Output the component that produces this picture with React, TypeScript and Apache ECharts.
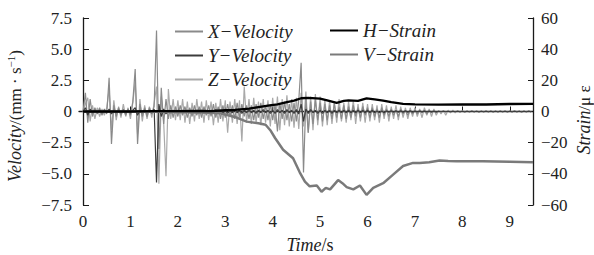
import React, { useEffect, useRef } from "react";
import * as echarts from "echarts";

const FONT = "Liberation Serif";

// sampling step (s) of the velocity records
const VEL_STEP = 0.05;

const xVelocity = [
  0, 1.5, -0.9, 1.0, -0.4, 0.3, -0.2, 0.3, -0.3, 0.2,
  -0.2, 2.7, -2.6, 0.5, -0.4, 0.3, -0.3, 0.2, -0.3, 0.2,
  -0.3, 0.8, 3.4, -2.6, 0.6, -0.4, 0.3, -0.4, 0.3, -0.2,
  0.4, 6.5, -3.0, 1.9, -1.0, 1.0, -0.6, 0.5, -0.5, 0.4,
  -0.4, 0.5, -0.3, 0.4, -0.5, 0.3, -0.4, 0.5, -0.3, 0.4,
  -0.5, 0.4, -0.3, 0.5, -0.4, 0.6, -0.5, 0.4, -0.6, 0.5,
  -0.5, 0.6, -0.4, 0.5, -0.6, 0.7, -0.5, 0.6, -0.4, 0.5,
  -0.6, 0.5, -0.7, 0.6, -0.5, 0.7, -0.6, 0.5, -0.7, 0.6,
  -0.7, 0.6, -1.6, 0.7, -0.6, 0.8, -0.7, 0.6, -0.8, 0.7,
  -0.8, 0.9, 3.9, -4.9, 1.0, -1.7, 0.8, -1.0, 0.9, -0.7,
  0.7, -0.8, 0.6, -0.7, 0.5, -0.6, 0.6, -0.5, 0.4, -0.6,
  0.5, -0.6, 0.4, -0.5, 0.5, -0.4, 0.3, -0.5, 0.4, -0.3,
  0.3, -0.5, 0.3, -0.4, 0.2, -0.5, 0.3, -0.3, 0.2, -0.4,
  0.2, -0.3, 0.1, -0.4, 0.2, -0.2, 0.1, -0.3, 0.1, -0.2,
  0.1, -0.2, 0.1, -0.1, 0.1, -0.2, 0.05, -0.1, 0.05, -0.1,
  0.02, -0.02, 0.03, -0.02, 0.02, -0.03, 0.02, -0.02, 0.03, -0.02,
  0.02, -0.03, 0.02, -0.02, 0.03, -0.02, 0.02, -0.03, 0.02, -0.02,
  0.03, -0.02, 0.02, -0.03, 0.02, -0.02, 0.03, -0.02, 0.02, -0.03,
  0.02, -0.02, 0.03, -0.02, 0.02, -0.03, 0.02, -0.02, 0.03, -0.02,
];

const yVelocity = [
  0, 0.3, -0.3, 0.2, -0.1, 0.1, -0.1, 0.1, -0.1, 0.1,
  -0.1, 0.2, -0.2, 0.1, -0.1, 0.1, -0.1, 0.1, -0.1, 0.1,
  -0.1, 0.1, 0.3, -0.3, 0.1, -0.1, 0.1, -0.1, 0.1, -0.1,
  0.2, -5.7, 0.6, -0.4, 0.2, -0.2, 0.1, -0.1, 0.1, -0.1,
  0.1, -0.1, 0.1, -0.1, 0.1, -0.1, 0.1, -0.1, 0.1, -0.1,
  0.1, -0.1, 0.1, -0.15, 0.1, -0.1, 0.15, -0.1, 0.1, -0.1,
  0.1, -0.15, 0.1, -0.1, 0.15, -0.1, 0.1, -0.15, 0.1, -0.1,
  0.15, -0.1, 0.1, -0.15, 0.1, -0.1, 0.15, -0.1, 0.1, -0.15,
  0.1, -0.15, 0.15, -0.1, 0.1, -0.15, 0.15, -0.1, 0.1, -0.15,
  0.15, -0.2, 0.6, -0.8, 0.2, -0.15, 0.15, -0.1, 0.1, -0.15,
  0.1, -0.15, 0.1, -0.1, 0.1, -0.15, 0.1, -0.1, 0.1, -0.1,
  0.1, -0.1, 0.1, -0.1, 0.1, -0.1, 0.1, -0.1, 0.1, -0.1,
  0.1, -0.1, 0.1, -0.1, 0.05, -0.1, 0.05, -0.1, 0.05, -0.05,
  0.05, -0.05, 0.05, -0.05, 0.05, -0.05, 0.05, -0.05, 0.05, -0.05,
  0.03, -0.03, 0.03, -0.03, 0.03, -0.03, 0.03, -0.03, 0.03, -0.03,
  0.02, -0.02, 0.02, -0.02, 0.02, -0.02, 0.02, -0.02, 0.02, -0.02,
  0.02, -0.02, 0.02, -0.02, 0.02, -0.02, 0.02, -0.02, 0.02, -0.02,
  0.02, -0.02, 0.02, -0.02, 0.02, -0.02, 0.02, -0.02, 0.02, -0.02,
  0.02, -0.02, 0.02, -0.02, 0.02, -0.02, 0.02, -0.02, 0.02, -0.02,
];

const zVelocity = [
  0, 0.6, 1.1, -0.8, 0.5, -0.6, 0.3, -0.4, 0.2, -0.3,
  0.3, 1.8, -1.5, 0.9, -0.7, 0.4, -0.5, 0.6, -0.4, 0.3,
  -0.6, 0.7, 2.4, -1.8, 1.0, -0.8, 0.5, -0.6, 0.4, -0.5,
  0.7, 2.0, -5.8, 1.2, -0.8, -5.2, 1.8, -0.6, 1.0, -0.7,
  0.9, -0.7, 1.0, -0.9, 0.8, -1.0, 0.7, -0.8, 1.0, -0.6,
  0.8, -0.9, 0.9, -0.7, 0.8, -1.1, 0.7, -0.9, 1.0, -0.8,
  0.9, -1.7, 0.8, -0.9, 1.0, -1.0, 0.9, -2.4, 2.0, -0.9,
  1.0, -1.0, 1.1, -0.9, 0.8, -1.1, 1.0, -0.9, 0.9, -1.2,
  1.1, -1.0, 1.2, -1.5, 1.0, -1.1, 1.3, -1.2, 1.0, -1.3,
  1.1, -1.4, 1.5, -1.2, 1.6, -1.7, 1.2, -1.5, 1.4, -1.1,
  1.2, -1.2, 1.0, -1.1, 0.9, -1.0, 0.8, -0.9, 1.0, -0.8,
  0.7, -0.9, 0.8, -0.7, 0.9, -1.0, 0.6, -0.8, 0.7, -0.9,
  0.6, -0.8, 0.6, -0.7, 0.5, -0.9, 0.6, -0.6, 0.5, -0.8,
  0.4, -0.6, 0.5, -0.7, 0.4, -0.5, 0.3, -0.6, 0.3, -0.4,
  0.3, -0.4, 0.2, -0.5, 0.3, -0.3, 0.2, -0.4, 0.2, -0.3,
  0.1, -0.2, 0.1, -0.3, 0.1, -0.1, 0.1, -0.1, 0.05, -0.05,
  0.05, -0.05, 0.03, -0.04, 0.05, -0.03, 0.04, -0.05, 0.03, -0.04,
  0.04, -0.03, 0.05, -0.04, 0.03, -0.05, 0.04, -0.03, 0.05, -0.04,
  0.03, -0.04, 0.05, -0.03, 0.04, -0.05, 0.03, -0.04, 0.05, -0.03,
];

// [time (s), strain (με)]
const hStrain: [number, number][] = [
  [0, 0], [0.5, 0.1], [1, 0], [1.5, 0.2], [2, 0.3], [2.5, 0.4], [2.7, 0.2],
  [3.0, 0.8], [3.2, 1.0], [3.5, 1.8], [3.7, 2.8], [3.9, 3.8], [4.1, 4.6],
  [4.3, 6.0], [4.45, 7.0], [4.6, 8.5], [4.75, 8.8], [5.0, 8.3], [5.15, 7.2],
  [5.35, 5.6], [5.5, 6.8], [5.6, 7.2], [5.8, 6.8], [5.98, 8.4], [6.15, 7.8],
  [6.33, 7.0], [6.5, 6.0], [6.75, 4.9], [7.0, 4.6], [7.5, 4.4], [8.0, 4.6],
  [8.5, 4.5], [9.0, 4.8], [9.49, 4.9],
];

const vStrain: [number, number][] = [
  [0, 0], [1, 0], [2, -0.3], [2.5, -0.6], [2.9, -1.2], [3.2, -3.5],
  [3.45, -6.5], [3.7, -7.5], [3.85, -8.5], [3.95, -12], [4.05, -17],
  [4.22, -24.5], [4.43, -30], [4.57, -39], [4.68, -45], [4.78, -48],
  [4.93, -47.5], [5.03, -51.5], [5.12, -49], [5.21, -50], [5.38, -44],
  [5.47, -46], [5.56, -48.5], [5.7, -50], [5.84, -47.5], [5.98, -53.5],
  [6.12, -49], [6.33, -46], [6.54, -40.5], [6.75, -35], [6.96, -33],
  [7.1, -33], [7.3, -32.5], [7.52, -31.5], [7.7, -31.8], [7.88, -32],
  [8.43, -32], [9.0, -32.3], [9.49, -32.5],
];

const timeTicks = [0, 1, 2, 3, 4, 5, 6, 7, 8, 9];

const velSeriesNames = ["X\u2212Velocity", "Y\u2212Velocity", "Z\u2212Velocity"];
const strainSeriesNames = ["H\u2212Strain", "V\u2212Strain"];

const toPairs = (vals: number[]) => vals.map((v, i) => [+(i * VEL_STEP).toFixed(2), v]);

const fmtMinus = (v: number, digits: number) =>
  v === 0 ? "0" : (v < 0 ? "\u2212" : "") + Math.abs(v).toFixed(digits);

function buildOption() {
  const axisLine = { show: true, lineStyle: { color: "#1a1a1a", width: 1.3 } };
  const labelStyle = { fontFamily: FONT, fontSize: 17, color: "#222" };
  const legendText = { fontFamily: FONT, fontStyle: "italic", fontSize: 19, color: "#222", lineHeight: 18 };
  const lineSeries = (name: string, data: any, color: string, width: number, yAxisIndex = 0, z = 2) => ({
    name,
    type: "line",
    data,
    yAxisIndex,
    symbol: "none",
    showSymbol: false,
    z,
    lineStyle: { color, width },
    itemStyle: { color },
  });
  return {
    animation: false,
    textStyle: { fontFamily: FONT },
    grid: { left: 79, right: 61, top: 18, bottom: 50, containLabel: false },
    legend: [
      {
        data: velSeriesNames,
        orient: "vertical",
        left: 170,
        top: 17,
        icon: "rect",
        itemWidth: 28,
        itemHeight: 2,
        itemGap: 5,
        textStyle: legendText,
      },
      {
        data: strainSeriesNames,
        orient: "vertical",
        left: 325,
        top: 16,
        icon: "rect",
        itemWidth: 28,
        itemHeight: 2,
        itemGap: 5,
        textStyle: legendText,
      },
    ],
    xAxis: {
      type: "value",
      min: -0.085,
      max: 9.49,
      axisLine,
      axisTick: { show: true, inside: true, length: 5, customValues: timeTicks, lineStyle: { color: "#1a1a1a" } },
      axisLabel: { ...labelStyle, margin: 8, customValues: timeTicks, formatter: (v: number) => String(v) },
      splitLine: { show: false },
    },
    yAxis: [
      {
        type: "value",
        position: "left",
        min: -7.5,
        max: 7.5,
        interval: 2.5,
        axisLine,
        axisTick: { show: true, inside: true, length: 6, lineStyle: { color: "#1a1a1a" } },
        axisLabel: { ...labelStyle, margin: 7, formatter: (v: number) => fmtMinus(v, 1) },
        splitLine: { show: false },
      },
      {
        type: "value",
        position: "right",
        min: -60,
        max: 60,
        interval: 20,
        axisLine,
        axisTick: { show: true, inside: true, length: 5, lineStyle: { color: "#1a1a1a" } },
        axisLabel: { ...labelStyle, margin: 8, formatter: (v: number) => fmtMinus(v, 0) },
        splitLine: { show: false },
      },
    ],
    series: [
      lineSeries(velSeriesNames[2], toPairs(zVelocity), "#a9a9a9", 1.2, 0, 2),
      lineSeries(velSeriesNames[0], toPairs(xVelocity), "#8a8a8a", 1.2, 0, 3),
      lineSeries(velSeriesNames[1], toPairs(yVelocity), "#3c3c3c", 1.2, 0, 4),
      lineSeries(strainSeriesNames[1], vStrain, "#7a7a7a", 2.5, 1, 5),
      lineSeries(strainSeriesNames[0], hStrain, "#000000", 2.3, 1, 6),
    ],
    graphic: [
      {
        type: "text",
        x: 15,
        y: 116,
        rotation: Math.PI / 2,
        style: {
          text: "{i|Velocity}{n|/(mm \u00b7 s}{s|\u22121}{n|)}",
          fontFamily: FONT,
          fontSize: 17,
          align: "center",
          verticalAlign: "middle",
          fill: "#222",
          rich: {
            i: { fontFamily: FONT, fontStyle: "italic", fontSize: 18, fill: "#222", lineHeight: 20 },
            n: { fontFamily: FONT, fontSize: 17, fill: "#222", lineHeight: 20 },
            s: { fontFamily: FONT, fontSize: 11, fill: "#222", verticalAlign: "top", lineHeight: 12 },
          },
        },
      },
      {
        type: "text",
        x: 584,
        y: 120,
        rotation: Math.PI / 2,
        style: {
          text: "{i|Strain}{n|/\u03bc \u03b5}",
          fontFamily: FONT,
          fontSize: 17,
          align: "center",
          verticalAlign: "middle",
          fill: "#222",
          rich: {
            i: { fontFamily: FONT, fontStyle: "italic", fontSize: 18, fill: "#222", lineHeight: 18 },
            n: { fontFamily: FONT, fontSize: 17, fill: "#222", lineHeight: 18 },
          },
        },
      },
      {
        type: "text",
        x: 310,
        y: 245,
        style: {
          text: "{i|Time}{n|/s}",
          fontFamily: FONT,
          fontSize: 18,
          align: "center",
          verticalAlign: "middle",
          fill: "#222",
          rich: {
            i: { fontFamily: FONT, fontStyle: "italic", fontSize: 18, fill: "#222" },
            n: { fontFamily: FONT, fontSize: 18, fill: "#222" },
          },
        },
      },
    ],
  };
}

export default function App() {
  const ref = useRef<HTMLDivElement>(null);
  useEffect(() => {
    if (!ref.current) return;
    const chart = echarts.init(ref.current, null, { renderer: "svg" });
    chart.setOption(buildOption() as any);
    return () => chart.dispose();
  }, []);
  return (
    <div
      ref={ref}
      style={{ position: "absolute", left: 0, top: 0, width: 594, height: 255, background: "#fff" }}
    />
  );
}
